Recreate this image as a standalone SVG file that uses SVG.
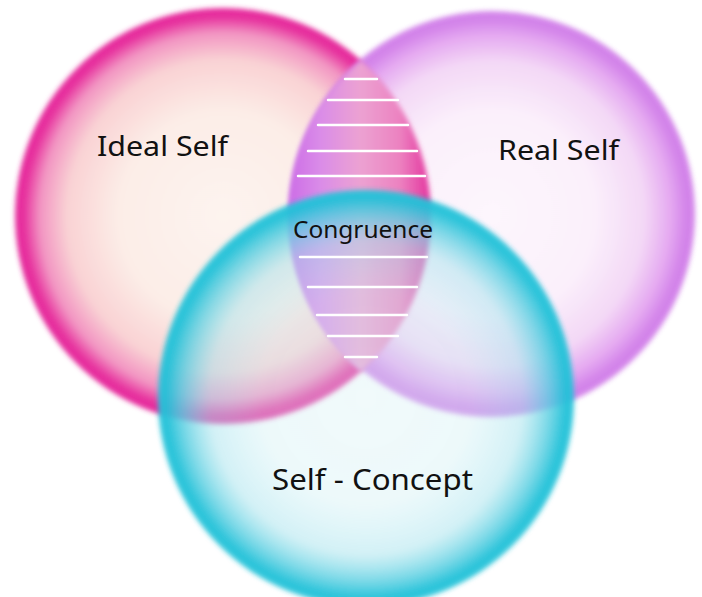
<svg xmlns="http://www.w3.org/2000/svg" width="702" height="597" viewBox="0 0 702 597">
  <defs>
    <radialGradient id="gPink" cx="0.5" cy="0.5" r="0.5">
      <stop offset="0" stop-color="#fdf4ef"/>
      <stop offset="0.5" stop-color="#fcede7"/>
      <stop offset="0.75" stop-color="#f9d2d4"/>
      <stop offset="0.88" stop-color="#f294c2"/>
      <stop offset="0.96" stop-color="#e62d9d"/>
      <stop offset="1" stop-color="#e6309e"/>
    </radialGradient>
    <radialGradient id="gPurple" cx="0.5" cy="0.5" r="0.5">
      <stop offset="0" stop-color="#fdf6fd"/>
      <stop offset="0.5" stop-color="#fbeffb"/>
      <stop offset="0.75" stop-color="#f3d5f6"/>
      <stop offset="0.88" stop-color="#e3a2f0"/>
      <stop offset="0.96" stop-color="#cf78e8"/>
      <stop offset="1" stop-color="#d07ce8"/>
    </radialGradient>
    <radialGradient id="gCyan" cx="0.5" cy="0.5" r="0.5">
      <stop offset="0" stop-color="#d6f0f4" stop-opacity="0.35"/>
      <stop offset="0.5" stop-color="#cdeef3" stop-opacity="0.36"/>
      <stop offset="0.75" stop-color="#a6e3ed" stop-opacity="0.5"/>
      <stop offset="0.88" stop-color="#5acfe1" stop-opacity="0.8"/>
      <stop offset="0.96" stop-color="#20c1d8" stop-opacity="0.95"/>
      <stop offset="1" stop-color="#26c3d9" stop-opacity="0.95"/>
    </radialGradient>
    <linearGradient id="gLens" x1="289" y1="0" x2="431" y2="0" gradientUnits="userSpaceOnUse">
      <stop offset="0" stop-color="#cc6ce6"/>
      <stop offset="0.22" stop-color="#da8ce8"/>
      <stop offset="0.5" stop-color="#eca2d2"/>
      <stop offset="0.78" stop-color="#ec82c0"/>
      <stop offset="1" stop-color="#e3329d"/>
    </linearGradient>
    <filter id="soft" x="-10%" y="-10%" width="120%" height="120%">
      <feGaussianBlur stdDeviation="2.5"/>
    </filter>
  </defs>
  <style>
    .bubble { filter: url(#soft); }
    .label { font-family: "Noto Sans", "Open Sans", "DejaVu Sans", sans-serif; fill: #111; }
    .stripe { stroke: #ffffff; stroke-width: 2.5; stroke-linecap: round; }
  </style>
  <rect x="0" y="0" width="702" height="597" fill="#ffffff"/>
  <g id="circles">
    <g id="ideal-self">
      <circle class="bubble" cx="223" cy="216" r="208" fill="url(#gPink)"/>
    </g>
    <g id="real-self">
      <circle class="bubble" cx="492" cy="214" r="203" fill="url(#gPurple)" opacity="0.92"/>
    </g>
    <g id="congruence-area">
      <path class="bubble" d="M361,60.6 A208,208 0 0 1 361,371.4 A203,203 0 0 1 361,60.6 Z" fill="url(#gLens)"/>
    </g>
    <g id="self-concept">
      <circle class="bubble" cx="366" cy="398" r="208" fill="url(#gCyan)"/>
    </g>
  </g>
  <g id="congruence">
    <line class="stripe" x1="345" y1="79" x2="377" y2="79"/>
    <line class="stripe" x1="328" y1="100" x2="398" y2="100"/>
    <line class="stripe" x1="318" y1="125" x2="408" y2="125"/>
    <line class="stripe" x1="308" y1="151" x2="417" y2="151"/>
    <line class="stripe" x1="298" y1="176" x2="425" y2="176"/>
    <line class="stripe" x1="300" y1="257" x2="427" y2="257"/>
    <line class="stripe" x1="308" y1="287" x2="417" y2="287"/>
    <line class="stripe" x1="317" y1="315" x2="407" y2="315"/>
    <line class="stripe" x1="328" y1="336" x2="398" y2="336"/>
    <line class="stripe" x1="345" y1="357" x2="377" y2="357"/>
  </g>
  <g id="labels">
    <text class="label" x="97" y="156" font-size="28" textLength="131" lengthAdjust="spacingAndGlyphs">Ideal Self</text>
    <text class="label" x="498" y="160" font-size="28" textLength="121" lengthAdjust="spacingAndGlyphs">Real Self</text>
    <text class="label" x="293" y="238" font-size="23" textLength="140" lengthAdjust="spacingAndGlyphs">Congruence</text>
    <text class="label" x="272" y="490" font-size="29" textLength="201" lengthAdjust="spacingAndGlyphs">Self - Concept</text>
  </g>
</svg>
